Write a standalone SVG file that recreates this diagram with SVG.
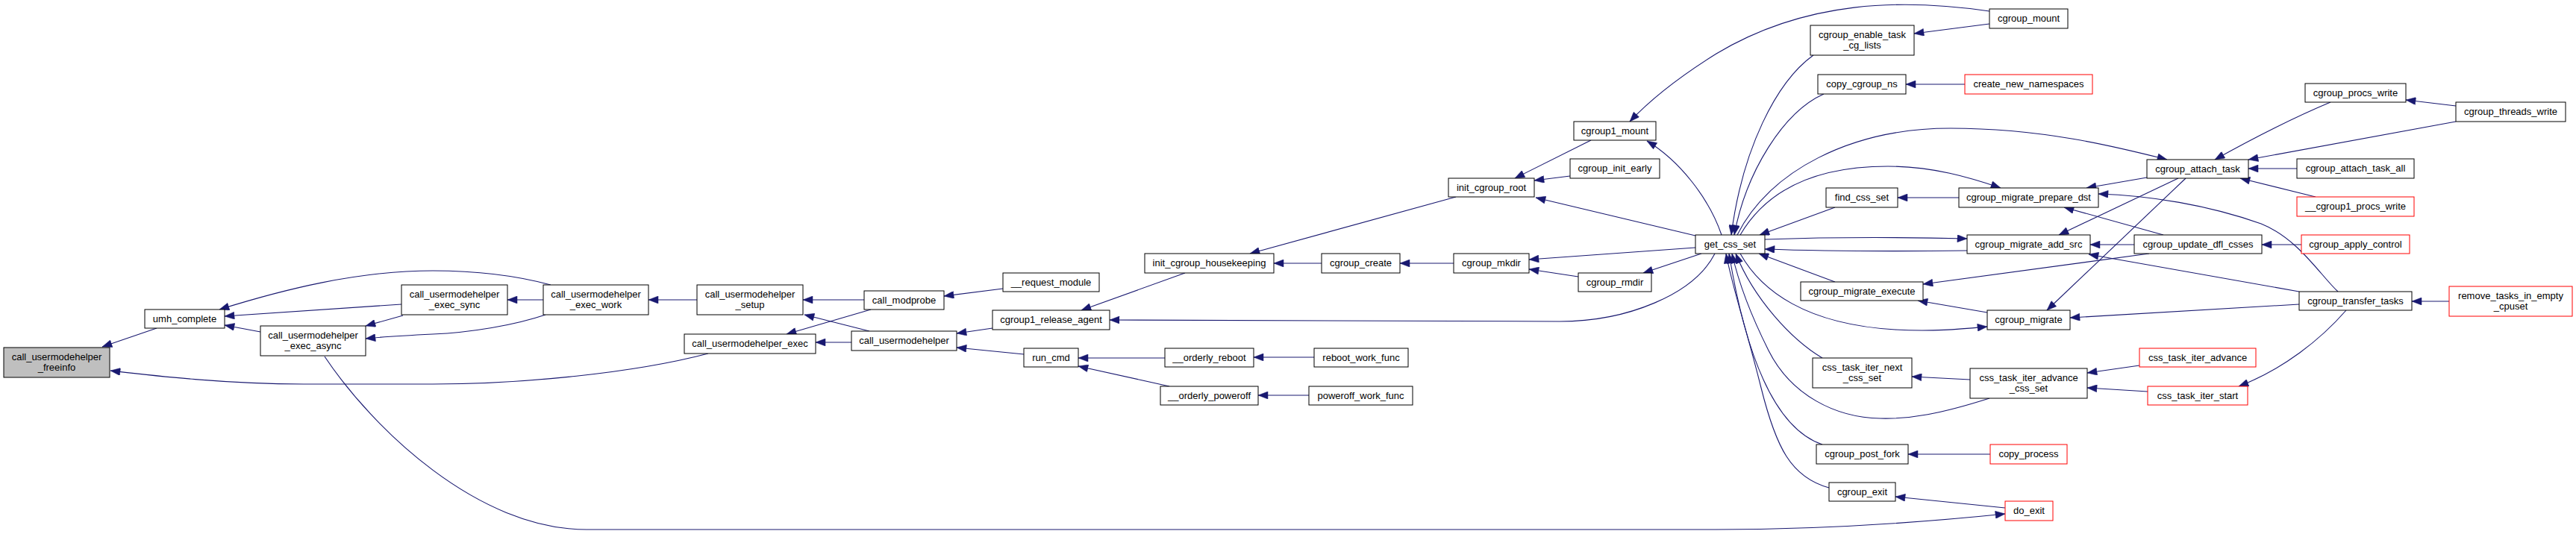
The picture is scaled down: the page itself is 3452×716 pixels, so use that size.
<svg xmlns="http://www.w3.org/2000/svg" width="3452" height="716" viewBox="0 0 3452 716">
<style>
.n rect{fill:#fff;stroke:#000;stroke-width:1}
.n.r rect{stroke:#ff0000}
.n.f rect{fill:#bfbfbf}
.n text{font-family:"Liberation Sans",Arial,sans-serif;font-size:13px;fill:#000;text-anchor:middle}
#edges path{fill:none;stroke:#191970;stroke-width:1.1;marker-end:url(#ah)}
</style>
<defs>
<marker id="ah" markerUnits="userSpaceOnUse" markerWidth="14" markerHeight="10" viewBox="0 0 13 10" refX="13" refY="5" orient="auto">
<path d="M0,0 L13,5 L0,10 z" fill="#191970" stroke="#191970" stroke-width="0.5"/>
</marker>
</defs>
<rect width="3452" height="716" fill="#fff"/>
<g id="edges">
<path d="M210,440 L137,465"/>
<path d="M949,474 C850,500 700,515 580,515 L407,515 C300,515 200,503 148,497"/>
<path d="M738,382 C690,369 640,363 580,363 C480,363 380,388 294,415"/>
<path d="M538,408 L301,424"/>
<path d="M349,445 L301,436"/>
<path d="M540,423 L490,437"/>
<path d="M731,422 C690,436 630,446 580,448 C540,450 510,452 490,454"/>
<path d="M728,402 L680,402"/>
<path d="M934,402 L869,402"/>
<path d="M435,478 C500,575 640,710 786,710 L2300,710 C2450,710 2580,700 2687,689"/>
<path d="M1158,402 L1076,402"/>
<path d="M1165,444 L1078,422"/>
<path d="M1167,415 L1054,448"/>
<path d="M1141,459 L1093,459"/>
<path d="M1344,387 L1265,397"/>
<path d="M1330,440 L1282,447"/>
<path d="M1372,475 L1282,466"/>
<path d="M1561,480 L1445,480"/>
<path d="M1567,518 L1445,491"/>
<path d="M1761,479 L1680,479"/>
<path d="M1754,530 L1686,530"/>
<path d="M1588,366 L1449,416"/>
<path d="M2298,340 C2270,395 2180,431 2090,431 L1487,429"/>
<path d="M1771,353 L1707,353"/>
<path d="M1951,264 L1675,340"/>
<path d="M1948,353 L1876,353"/>
<path d="M2272,332 L2049,348"/>
<path d="M2115,371 L2049,361"/>
<path d="M2280,340 L2202,366"/>
<path d="M2132,188 L2030,239"/>
<path d="M2104,236 L2056,242"/>
<path d="M2272,316 L2058,265"/>
<path d="M2307,315 C2290,265 2250,215 2207,189"/>
<path d="M2666,15 C2550,-2 2420,0 2300,72 C2260,97 2215,130 2184,163"/>
<path d="M2666,32 L2565,45"/>
<path d="M2430,74 C2380,110 2335,200 2320,315"/>
<path d="M2444,126 C2390,150 2340,230 2324,315"/>
<path d="M2633,113 L2554,113"/>
<path d="M2328,315 C2370,230 2480,172 2614,172 C2740,172 2840,198 2904,214"/>
<path d="M2332,315 C2370,250 2440,223 2530,223 C2590,223 2640,238 2681,252"/>
<path d="M2459,278 L2358,315"/>
<path d="M2625,265 L2543,265"/>
<path d="M2365,321 C2450,318 2550,318 2636,320"/>
<path d="M2636,336 C2550,337 2450,337 2365,334"/>
<path d="M2877,238 L2796,252"/>
<path d="M3133,391 C3110,370 3080,320 3030,300 C2960,275 2880,262 2812,260"/>
<path d="M2899,315 L2766,278"/>
<path d="M2919,239 L2759,315"/>
<path d="M2860,328 L2801,328"/>
<path d="M3081,391 L2799,341"/>
<path d="M2929,239 L2743,416"/>
<path d="M2880,340 L2577,381"/>
<path d="M2332,340 C2360,390 2420,435 2540,442 C2590,445 2630,441 2663,438"/>
<path d="M2459,378 L2357,340"/>
<path d="M2663,419 L2570,403"/>
<path d="M2442,480 C2400,455 2350,400 2326,340"/>
<path d="M2666,534 C2600,555 2560,562 2520,561 C2460,560 2400,530 2370,470 C2345,420 2330,380 2321,340"/>
<path d="M2640,509 L2562,505"/>
<path d="M2442,596 C2380,575 2340,480 2317,340"/>
<path d="M2667,609 L2557,609"/>
<path d="M2451,654 C2400,640 2380,600 2360,520 C2340,440 2320,380 2313,340"/>
<path d="M2687,681 L2540,666"/>
<path d="M2867,490 L2797,500"/>
<path d="M2878,525 L2797,520"/>
<path d="M3144,416 C3110,455 3060,495 3000,518"/>
<path d="M3081,408 L2774,426"/>
<path d="M3123,137 C3080,155 3020,185 2968,214"/>
<path d="M3291,163 L3013,214"/>
<path d="M3291,142 L3224,134"/>
<path d="M3078,226 L3013,226"/>
<path d="M3103,264 L3002,239"/>
<path d="M3084,328 L3031,328"/>
<path d="M3282,404 L3232,404"/>
</g>
<g id="n1" class="n f"><rect x="5" y="466" width="142" height="40"/><text x="76" y="483">call_usermodehelper</text><text x="76" y="497">_freeinfo</text></g>
<g id="n2" class="n"><rect x="194" y="415" width="107" height="25"/><text x="247.5" y="432">umh_complete</text></g>
<g id="n3" class="n"><rect x="349" y="437" width="141" height="40"/><text x="419.5" y="454">call_usermodehelper</text><text x="419.5" y="468">_exec_async</text></g>
<g id="n4" class="n"><rect x="538" y="382" width="142" height="40"/><text x="609" y="399">call_usermodehelper</text><text x="609" y="413">_exec_sync</text></g>
<g id="n5" class="n"><rect x="728" y="382" width="141" height="40"/><text x="798.5" y="399">call_usermodehelper</text><text x="798.5" y="413">_exec_work</text></g>
<g id="n6" class="n"><rect x="934" y="382" width="142" height="40"/><text x="1005" y="399">call_usermodehelper</text><text x="1005" y="413">_setup</text></g>
<g id="n7" class="n"><rect x="917" y="448" width="176" height="26"/><text x="1005" y="465">call_usermodehelper_exec</text></g>
<g id="n8" class="n"><rect x="1141" y="444" width="141" height="26"/><text x="1211.5" y="461">call_usermodehelper</text></g>
<g id="n9" class="n"><rect x="1158" y="390" width="107" height="25"/><text x="1211.5" y="407">call_modprobe</text></g>
<g id="n10" class="n"><rect x="1344" y="366" width="129" height="25"/><text x="1408.5" y="383">__request_module</text></g>
<g id="n11" class="n"><rect x="1330" y="416" width="157" height="26"/><text x="1408.5" y="433">cgroup1_release_agent</text></g>
<g id="n12" class="n"><rect x="1372" y="467" width="73" height="25"/><text x="1408.5" y="484">run_cmd</text></g>
<g id="n13" class="n"><rect x="1561" y="467" width="119" height="25"/><text x="1620.5" y="484">__orderly_reboot</text></g>
<g id="n14" class="n"><rect x="1555" y="518" width="131" height="25"/><text x="1620.5" y="535">__orderly_poweroff</text></g>
<g id="n15" class="n"><rect x="1534" y="340" width="173" height="26"/><text x="1620.5" y="357">init_cgroup_housekeeping</text></g>
<g id="n16" class="n"><rect x="1761" y="467" width="126" height="25"/><text x="1824" y="484">reboot_work_func</text></g>
<g id="n17" class="n"><rect x="1754" y="518" width="139" height="25"/><text x="1823.5" y="535">poweroff_work_func</text></g>
<g id="n18" class="n"><rect x="1771" y="340" width="105" height="26"/><text x="1823.5" y="357">cgroup_create</text></g>
<g id="n19" class="n"><rect x="1948" y="340" width="101" height="26"/><text x="1998.5" y="357">cgroup_mkdir</text></g>
<g id="n20" class="n"><rect x="2115" y="366" width="98" height="25"/><text x="2164" y="383">cgroup_rmdir</text></g>
<g id="n21" class="n"><rect x="1941" y="239" width="115" height="25"/><text x="1998.5" y="256">init_cgroup_root</text></g>
<g id="n22" class="n"><rect x="2109" y="163" width="110" height="25"/><text x="2164" y="180">cgroup1_mount</text></g>
<g id="n23" class="n"><rect x="2104" y="213" width="120" height="26"/><text x="2164" y="230">cgroup_init_early</text></g>
<g id="n24" class="n"><rect x="2272" y="315" width="93" height="25"/><text x="2318.5" y="332">get_css_set</text></g>
<g id="n25" class="n"><rect x="2666" y="12" width="105" height="26"/><text x="2718.5" y="29">cgroup_mount</text></g>
<g id="n26" class="n"><rect x="2426" y="34" width="139" height="40"/><text x="2495.5" y="51">cgroup_enable_task</text><text x="2495.5" y="65">_cg_lists</text></g>
<g id="n27" class="n"><rect x="2436" y="100" width="118" height="26"/><text x="2495" y="117">copy_cgroup_ns</text></g>
<g id="n28" class="n r"><rect x="2633" y="100" width="171" height="26"/><text x="2718.5" y="117">create_new_namespaces</text></g>
<g id="n29" class="n"><rect x="2447" y="252" width="96" height="26"/><text x="2495" y="269">find_css_set</text></g>
<g id="n30" class="n"><rect x="2625" y="252" width="187" height="26"/><text x="2718.5" y="269">cgroup_migrate_prepare_dst</text></g>
<g id="n31" class="n"><rect x="2636" y="315" width="165" height="25"/><text x="2718.5" y="332">cgroup_migrate_add_src</text></g>
<g id="n32" class="n"><rect x="2877" y="214" width="136" height="25"/><text x="2945" y="231">cgroup_attach_task</text></g>
<g id="n33" class="n"><rect x="2860" y="315" width="171" height="25"/><text x="2945.5" y="332">cgroup_update_dfl_csses</text></g>
<g id="n34" class="n"><rect x="2413" y="378" width="164" height="25"/><text x="2495" y="395">cgroup_migrate_execute</text></g>
<g id="n35" class="n"><rect x="2663" y="416" width="111" height="26"/><text x="2718.5" y="433">cgroup_migrate</text></g>
<g id="n36" class="n"><rect x="2429" y="480" width="133" height="40"/><text x="2495.5" y="497">css_task_iter_next</text><text x="2495.5" y="511">_css_set</text></g>
<g id="n37" class="n"><rect x="2640" y="494" width="157" height="40"/><text x="2718.5" y="511">css_task_iter_advance</text><text x="2718.5" y="525">_css_set</text></g>
<g id="n38" class="n"><rect x="2434" y="596" width="123" height="26"/><text x="2495.5" y="613">cgroup_post_fork</text></g>
<g id="n39" class="n r"><rect x="2667" y="596" width="103" height="26"/><text x="2718.5" y="613">copy_process</text></g>
<g id="n40" class="n"><rect x="2451" y="647" width="89" height="25"/><text x="2495.5" y="664">cgroup_exit</text></g>
<g id="n41" class="n r"><rect x="2687" y="672" width="64" height="26"/><text x="2719" y="689">do_exit</text></g>
<g id="n42" class="n r"><rect x="2867" y="467" width="156" height="25"/><text x="2945" y="484">css_task_iter_advance</text></g>
<g id="n43" class="n r"><rect x="2878" y="518" width="134" height="25"/><text x="2945" y="535">css_task_iter_start</text></g>
<g id="n44" class="n"><rect x="3089" y="112" width="135" height="25"/><text x="3156.5" y="129">cgroup_procs_write</text></g>
<g id="n45" class="n"><rect x="3291" y="137" width="147" height="26"/><text x="3364.5" y="154">cgroup_threads_write</text></g>
<g id="n46" class="n"><rect x="3078" y="213" width="157" height="26"/><text x="3156.5" y="230">cgroup_attach_task_all</text></g>
<g id="n47" class="n r"><rect x="3078" y="264" width="157" height="26"/><text x="3156.5" y="281">__cgroup1_procs_write</text></g>
<g id="n48" class="n r"><rect x="3084" y="315" width="145" height="25"/><text x="3156.5" y="332">cgroup_apply_control</text></g>
<g id="n49" class="n"><rect x="3081" y="391" width="151" height="25"/><text x="3156.5" y="408">cgroup_transfer_tasks</text></g>
<g id="n50" class="n r"><rect x="3282" y="384" width="165" height="40"/><text x="3364.5" y="401">remove_tasks_in_empty</text><text x="3364.5" y="415">_cpuset</text></g>
</svg>
